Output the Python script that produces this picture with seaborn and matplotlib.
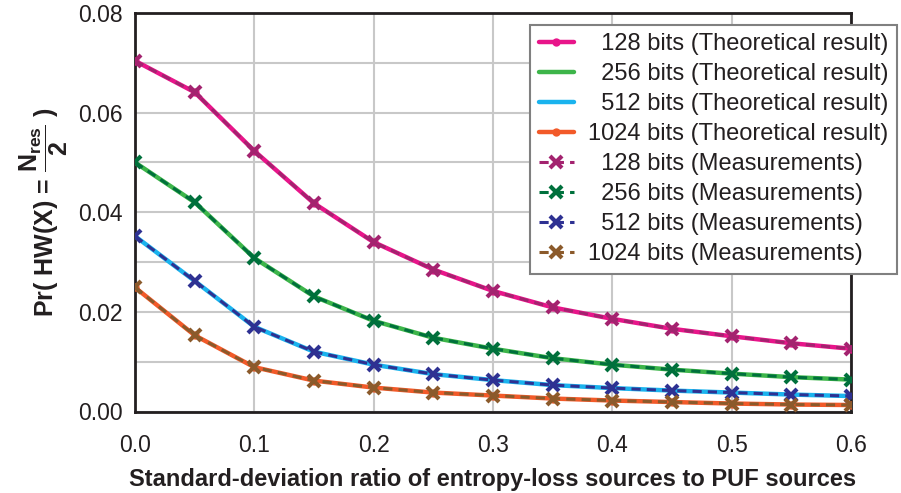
import matplotlib
matplotlib.use("Agg")
import matplotlib.pyplot as plt
import seaborn as sns
import numpy as np
from matplotlib.ticker import MultipleLocator, FormatStrFormatter

# ---- data ----
x_ratio = [0.0, 0.05, 0.1, 0.15, 0.2, 0.25, 0.3, 0.35, 0.4, 0.45, 0.5, 0.55, 0.6]

theory_128 = [0.0704, 0.0641, 0.0523, 0.0418, 0.0340, 0.0285, 0.0242, 0.0209, 0.0186, 0.0166, 0.0151, 0.0137, 0.0126]
theory_256 = [0.0500, 0.0420, 0.0308, 0.0231, 0.0182, 0.0148, 0.0126, 0.0107, 0.0094, 0.0084, 0.0076, 0.0069, 0.0064]
theory_512 = [0.0352, 0.0262, 0.0170, 0.0120, 0.0094, 0.0075, 0.0063, 0.0053, 0.0047, 0.0042, 0.0038, 0.0034, 0.0031]
theory_1024 = [0.0249, 0.0153, 0.0089, 0.0062, 0.0048, 0.0038, 0.0032, 0.0026, 0.0022, 0.0019, 0.0016, 0.0014, 0.0013]

meas_128 = [0.0704, 0.0641, 0.0523, 0.0418, 0.0340, 0.0285, 0.0242, 0.0209, 0.0186, 0.0166, 0.0151, 0.0137, 0.0126]
meas_256 = [0.0500, 0.0420, 0.0308, 0.0231, 0.0182, 0.0148, 0.0126, 0.0107, 0.0094, 0.0084, 0.0076, 0.0069, 0.0064]
meas_512 = [0.0352, 0.0262, 0.0170, 0.0120, 0.0094, 0.0075, 0.0063, 0.0053, 0.0047, 0.0042, 0.0038, 0.0034, 0.0031]
meas_1024 = [0.0249, 0.0153, 0.0089, 0.0062, 0.0048, 0.0038, 0.0032, 0.0026, 0.0022, 0.0019, 0.0016, 0.0014, 0.0013]

theory_labels = ["  128 bits (Theoretical result)", "  256 bits (Theoretical result)",
                 "  512 bits (Theoretical result)", "1024 bits (Theoretical result)"]
meas_labels = ["  128 bits (Measurements)", "  256 bits (Measurements)",
               "  512 bits (Measurements)", "1024 bits (Measurements)"]

theory_colors = ["#E8158A", "#3DB54A", "#1AB3EE", "#F25A29"]
meas_colors = ["#A3236F", "#00703C", "#2E3192", "#8B5A2B"]
theory_markers = ["o", None, None, "o"]

# ---- style ----
sns.set_style("white")
plt.rcParams['font.family'] = ['Liberation Sans', 'DejaVu Sans']
plt.rcParams['mathtext.fontset'] = 'custom'
plt.rcParams['mathtext.rm'] = 'Liberation Sans:bold'
plt.rcParams['mathtext.bf'] = 'Liberation Sans:bold'
plt.rcParams['mathtext.it'] = 'Liberation Sans:bold'
plt.rcParams['mathtext.default'] = 'bf'

TXT = "#231F20"

fig = plt.figure(figsize=(9.01, 4.93), dpi=100)
ax = fig.add_axes([135/901, 1-411.5/493, (851-135)/901, (411.5-13)/493])

theories = [theory_128, theory_256, theory_512, theory_1024]
meas = [meas_128, meas_256, meas_512, meas_1024]

for y, lab, c, m in zip(theories, theory_labels, theory_colors, theory_markers):
    sns.lineplot(x=x_ratio, y=y, ax=ax, color=c, lw=3.2, marker=m, markersize=6,
                 markeredgewidth=0, markerfacecolor=c, label=lab, zorder=3)

for y, lab, c in zip(meas, meas_labels, meas_colors):
    sns.lineplot(x=x_ratio, y=y, ax=ax, color=c, lw=2.2, marker="x", markersize=9,
                 markeredgewidth=3.0, markeredgecolor=c, markerfacecolor=c,
                 linestyle=(0, (3, 2)), label=lab, zorder=4)

ax.set_xlim(0, 0.6)
ax.set_ylim(0, 0.08)
ax.xaxis.set_major_locator(MultipleLocator(0.1))
ax.xaxis.set_major_formatter(FormatStrFormatter('%.1f'))
ax.yaxis.set_major_locator(MultipleLocator(0.02))
ax.yaxis.set_minor_locator(MultipleLocator(0.01))
ax.yaxis.set_major_formatter(FormatStrFormatter('%.2f'))

ax.grid(True, which='major', color='#C8C8C8', lw=1.5, zorder=0)
ax.grid(True, which='minor', axis='y', color='#C8C8C8', lw=1.5, zorder=0)
ax.set_axisbelow(True)

for s in ax.spines.values():
    s.set_visible(True)
    s.set_color('#231F20')
    s.set_linewidth(2.0)

ax.tick_params(axis='both', which='both', direction='out', length=6, width=1.5,
               color=TXT, labelcolor=TXT, labelsize=16.5)
ax.tick_params(axis='y', which='both', pad=3)
ax.tick_params(axis='x', pad=10)

ax.set_xlabel("Standard-deviation ratio of entropy-loss sources to PUF sources",
              fontsize=17, fontweight='bold', color=TXT, labelpad=8)
ax.set_ylabel(r"$\mathbf{Pr}$( HW(X) = $\dfrac{N_{res}}{2}$ )", fontsize=18,
              fontweight='bold', color=TXT, labelpad=6)

leg = ax.legend(loc='upper right', bbox_to_anchor=(897/901, 1-25/493),
                bbox_transform=fig.transFigure, fontsize=17, frameon=True,
                fancybox=False, framealpha=1, edgecolor='#808080',
                handlelength=1.5, handletextpad=0.6, labelspacing=0.34,
                borderpad=0.35, borderaxespad=0)
leg.get_frame().set_linewidth(1.5)
for t in leg.get_texts():
    t.set_color(TXT)
leg.set_zorder(10)

fig.savefig("out.png", dpi=100)
